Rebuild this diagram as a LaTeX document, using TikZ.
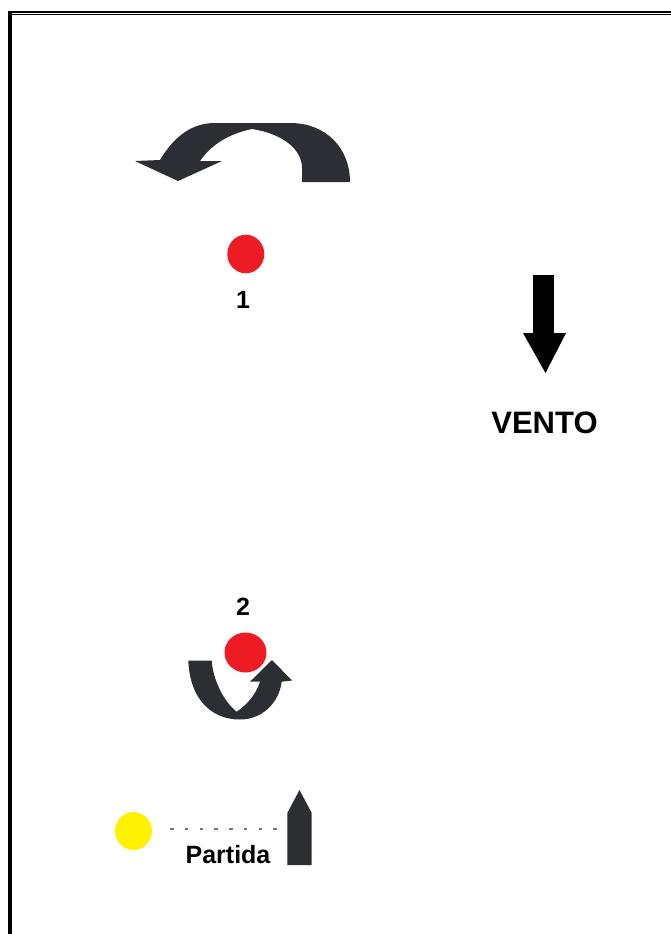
\documentclass[tikz,border=0pt]{standalone}
\usepackage{fontspec}
\setmainfont{Liberation Sans}
\definecolor{arrowdark}{RGB}{45,46,51}
\definecolor{buoyred}{RGB}{237,28,36}
\definecolor{startyellow}{RGB}{255,242,0}
\definecolor{dotgray}{RGB}{115,115,120}
\begin{document}
\begin{tikzpicture}[x=1pt,y=-1pt,
  lbl/.style={font=\bfseries\fontsize{25}{30}\selectfont, anchor=base, inner sep=0pt},
  shapefill/.style={fill=arrowdark, draw=none}]
\useasboundingbox (0,0) rectangle (671,934);
\fill[white] (0,0) rectangle (671,934);
% frame
\draw[line width=3.4pt] (10,11) -- (10,934);
\draw[line width=1.8pt] (8.3,11.9) -- (671,11.9);
\draw[line width=1pt] (11.7,14.2) -- (671,14.2);

% top curved arrow
\fill[shapefill] (160,160) .. controls (175,135) and (193,123) .. (215,123)
  -- (290,123) .. controls (326,123) and (350,148) .. (350,182)
  -- (302,182) -- (302,168)
  .. controls (302,150) and (284,134) .. (252,129)
  .. controls (228,134) and (211,145) .. (200,161)
  -- (222,161) -- (178,181) -- (135,161) -- cycle;

% buoy 1
\fill[buoyred] (245.8,254) ellipse [x radius=18.5, y radius=19.3];
\node[lbl] (n1) at (243,308) {1};

% wind
\fill[black] (533,275) rectangle (554,333);
\fill[black] (523,333) -- (566,333) -- (545.5,373) -- cycle;
\node[lbl, font=\bfseries\fontsize{31}{36}\selectfont] (vento) at (544.5,433) {VENTO};

% buoy 2
\node[lbl] (n2) at (243,615) {2};
\fill[shapefill] (188.3,660.7) -- (211.7,660.7)
  .. controls (213,680) and (224,702) .. (236.7,711.7)
  .. controls (248,704) and (256,694) .. (260,681.7)
  -- (250,681.7) -- (272,660) -- (292,680.5) -- (281.7,681.7)
  .. controls (279,703) and (262,719.5) .. (240,719.5)
  .. controls (212,719.5) and (190,700) .. (188.3,660.7) -- cycle;
\fill[buoyred] (245.5,652.5) ellipse [x radius=21, y radius=20];

% start line
\fill[startyellow] (133.5,831) ellipse [x radius=18.5, y radius=19];
\coordinate (dl) at (170,829);
\coordinate (dr) at (277.5,829);
\draw[dotgray, line width=2.4pt, dash pattern=on 3.6pt off 11.16pt] (dl) -- (dr);
\fill[shapefill] (287.3,813) -- (299.5,790) -- (311.7,813) -- (311.7,865) -- (287.3,865) -- cycle;
\node[lbl] (partida) at (228,863) {Partida};
\end{tikzpicture}
\end{document}
